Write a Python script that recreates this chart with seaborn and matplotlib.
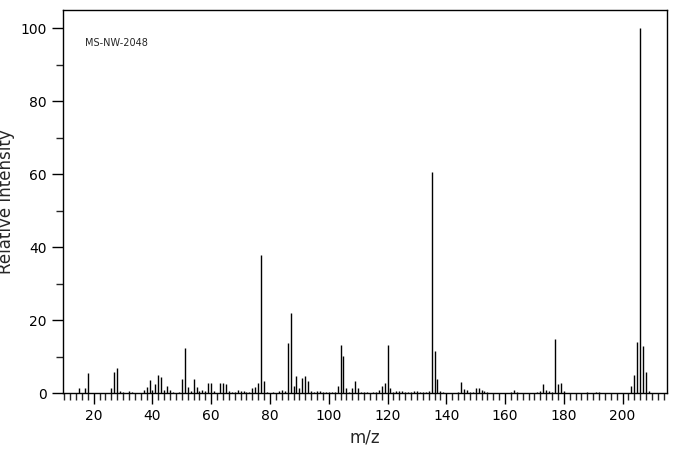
import numpy as np
import matplotlib
matplotlib.use("Agg")
import matplotlib.pyplot as plt
import seaborn as sns
from matplotlib.ticker import MultipleLocator

mz = [15, 17, 18, 26, 27, 28, 29, 30, 32, 33, 37, 38, 39, 40, 41, 42, 43, 44, 45, 46, 47,
      49, 50, 51, 52, 53, 54, 55, 56, 57, 58, 59, 60, 61, 63, 64, 65, 66, 67, 68, 69, 70,
      71, 72, 73, 74, 75, 76, 77, 78, 79, 81, 83, 84, 85, 86, 87, 88, 89, 90, 91, 92, 93,
      94, 95, 96, 97, 98, 99, 100, 101, 102, 103, 104, 105, 106, 107, 108, 109, 110, 111,
      112, 113, 115, 116, 117, 118, 119, 120, 121, 122, 123, 124, 125, 126, 127, 128, 129,
      130, 131, 132, 133, 134, 135, 136, 137, 138, 139, 144, 145, 146, 147, 148, 149, 150,
      151, 152, 153, 154, 162, 163, 164, 171, 172, 173, 174, 175, 176, 177, 178, 179, 180,
      188, 191, 192, 203, 204, 205, 206, 207, 208, 209]
intensity = [1.5, 1.5, 5.6, 1.5, 5.8, 6.9, 0.5, 0.4, 0.5, 0.4, 0.9, 1.8, 3.7, 0.9, 2.6, 5.0, 4.5, 0.9, 2.0, 0.9, 0.4,
             0.4, 3.9, 12.4, 1.7, 0.5, 3.9, 1.7, 0.5, 0.9, 0.5, 2.8, 2.8, 0.7, 2.8, 2.8, 2.6, 0.5, 0.4, 0.4, 0.9, 0.5,
             0.5, 0.4, 0.4, 1.5, 1.8, 2.8, 37.9, 3.4, 0.4, 0.4, 0.7, 0.9, 0.5, 13.8, 22.0, 2.0, 4.7, 1.5, 4.2, 4.7, 3.4,
             0.5, 0.4, 0.5, 0.5, 0.4, 0.4, 0.4, 0.4, 0.4, 2.0, 13.2, 10.2, 1.5, 0.4, 1.5, 3.4, 1.5, 0.4,
             0.4, 0.4, 0.4, 0.4, 0.9, 2.0, 2.8, 13.2, 1.5, 0.4, 0.5, 0.5, 0.5, 0.4, 0.4, 0.4, 0.5,
             0.5, 0.4, 0.4, 0.4, 0.5, 60.5, 11.6, 3.9, 0.5, 0.4, 0.4, 3.1, 1.1, 0.9, 0.4, 0.4, 1.5,
             1.5, 0.9, 0.5, 0.4, 0.4, 0.9, 0.4, 0.4, 0.5, 2.6, 0.9, 0.7, 0.4, 14.9, 2.6, 2.8, 0.5,
             0.4, 0.4, 0.4, 2.0, 5.0, 14.0, 100.0, 13.0, 5.8, 0.5]
label = "MS-NW-2048"

sns.set_style("ticks")
plt.rcParams['font.family'] = ['DejaVu Sans']

fig = plt.figure(figsize=(6.76, 4.55), dpi=100)
ax = fig.add_axes([0.093, 0.136, 0.894, 0.842])
ax.vlines(mz, 0, intensity, color="black", linewidth=1)
ax.set_xlim(9.5, 215.2)
ax.set_ylim(0, 105)
ax.xaxis.set_major_locator(MultipleLocator(20))
ax.xaxis.set_minor_locator(MultipleLocator(2))
ax.yaxis.set_major_locator(MultipleLocator(20))
ax.yaxis.set_minor_locator(MultipleLocator(10))
ax.tick_params(which="major", length=8, width=1, colors="black", labelsize=10, direction="out")
ax.tick_params(which="minor", length=5, width=1, direction="out")
for s in ax.spines.values():
    s.set_linewidth(1)
    s.set_color("black")
ax.set_xlabel("m/z", fontsize=12)
ax.set_ylabel("Relative Intensity", fontsize=12)
ax.text(17, 96, label, fontsize=7, va="center")
fig.savefig("out.png", dpi=100)
